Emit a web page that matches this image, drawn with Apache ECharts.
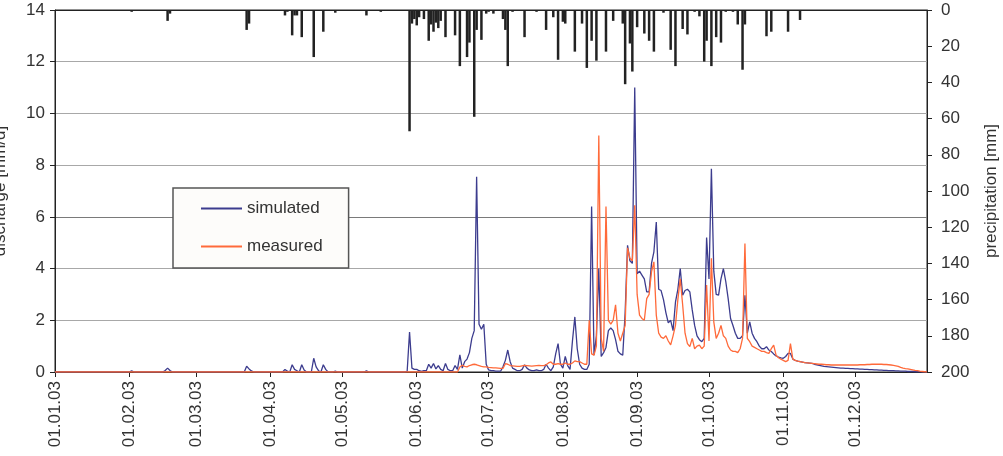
<!DOCTYPE html>
<html>
<head>
<meta charset="utf-8">
<title>discharge / precipitation 2003</title>
<script src="https://cdn.jsdelivr.net/npm/echarts@6.0.0/dist/echarts.min.js"></script>
<style>
  html, body { margin: 0; padding: 0; background: #fff; }
  #main { width: 1003px; height: 456px; }
</style>
</head>
<body>
<div id="main"></div>
<script>
// month axis (2003)
var monthLabels = ['01.01.03', '01.02.03', '01.03.03', '01.04.03', '01.05.03', '01.06.03',
                   '01.07.03', '01.08.03', '01.09.03', '01.10.03', '01.11.03', '01.12.03'];
var monthDays = [31, 28, 31, 30, 31, 30, 31, 31, 30, 31, 30, 31];

// daily precipitation [mm], one line per month
var precipitation = [
  0,0,0,0,0,0,0,0,0,0, 0,0,0,0,0,0,0,0,0,0, 0,0,0,0,0,0,0,0,0,0, 0,
  0,1,0,0,0,0,0,0,0,0, 0,0,0,0,0,0,6,2,0,0, 0,0,0,0,0,0,0,0,
  0,0,0,0,0,0,0,0,0,0, 0,0,0,0,0,0,0,0,0,0, 0,11,7.5,0,0,0,0,0,0,0, 0,
  0,0,0,0,0,0,3,1,0,14, 3,3,0,15,0,0,0,0,26,0, 0,0,12,0,0,0,0,1.5,0,0,
  0,0,0,0,0,0,0,0,0,0, 3,0,0,0,0,0,1,0,0,0, 0,0,0,0,0,0,0,0,67,7.5, 5,
  8.5,4,0,5,0,17,8,12,7,10, 6,0,15,0,0,0,14,0,31,0, 0,26,18,0,59,11,0,16.5,0,2,
  1,0,2,0,0,0,5,11,31,0, 1,0,0,0,0,15,0,0,0,0, 1,0,0,0,11,0,0,4,0,27.5, 0,
  6.5,7.5,0,0,0,23,0,0,7.5,0, 32,0,17,0,28,0,0,0,23,0, 0,6,0,0,0,7.5,41,0,18.5,34, 0,
  9.5,0,0,13,0,17,0,23,0,0, 0,1.5,0,0,22,0,31,0,0,10.5, 0,13.5,0,0,1,0,3.5,0,28.5,17,
  0,31,0,15,0,18,0,1,0,0, 1,0,8,0,33,8,0,0,0,0, 0,0,0,0,14.5,0,12,0,0,0, 0,
  0,0,12,0,0,0,0,5.5,0,0, 0,0,0,0,0,0,0,0,0,0, 0,0,0,0,0,0,0,0,0,0,
  0,0,0,0,0,0,0,0,0,0, 0,0,0,0,0,0,0,0,0,0, 0,0,0,0,0,0,0,0,0,0, 0
];

// simulated discharge [mm/d]
var simulated = [
  0,0,0,0,0,0,0,0,0,0, 0,0,0,0,0,0,0,0,0,0, 0,0,0,0,0,0,0,0,0,0, 0,
  0,0.05,0,0,0,0,0,0,0,0, 0,0,0,0,0,0.06,0.15,0.06,0,0, 0,0,0,0,0,0,0,0,
  0,0,0,0,0,0,0,0,0,0, 0,0,0,0,0,0,0,0,0,0, 0,0.22,0.12,0.04,0,0,0,0,0,0, 0,
  0,0,0,0,0,0,0.1,0.03,0,0.28, 0.1,0.05,0,0.28,0.08,0,0,0,0.53,0.2, 0.05,0,0.28,0.1,0,0,0,0.03,0,0,
  0,0,0,0,0,0,0,0,0,0, 0.05,0,0,0,0,0,0,0,0,0, 0,0,0,0,0,0,0,0.02,1.55,0.15, 0.1,
  0.1,0.05,0.02,0.05,0.05,0.3,0.15,0.33,0.12,0.25, 0.1,0.05,0.33,0.1,0.05,0.05,0.25,0.1,0.66,0.15, 0.4,0.5,0.75,1.3,1.6,7.55,1.85,1.65,1.85,0.3,
  0.08,0.05,0.05,0.03,0.03,0.03,0.2,0.45,0.85,0.4, 0.15,0.1,0.05,0.05,0.1,0.28,0.15,0.08,0.05,0.05, 0.08,0.05,0.05,0.1,0.3,0.15,0.05,0.2,0.7,1.1, 0.3,
  0.15,0.6,0.25,0.1,1.2,2.13,0.9,0.3,0.15,0.1, 0.1,0.3,6.4,0.65,1.4,4.0,0.6,0.75,0.95,1.6, 1.7,1.6,1.25,0.8,0.7,0.65,2.3,4.9,4.3,4.2, 11.0,
  3.8,3.9,3.75,3.6,3.1,3.1,4.2,4.65,5.8,3.2, 3.15,2.8,2.3,1.9,2.0,1.6,2.7,3.2,4.0,2.97, 3.15,3.2,3.1,2.4,1.8,1.4,1.25,1.17,1.3,5.2,
  3.6,7.86,3.9,3.0,2.97,3.6,4.0,3.5,2.84,2.07, 1.8,1.5,1.3,1.3,1.4,2.97,1.5,1.94,1.5,1.3, 1.17,1.0,0.9,0.9,0.98,0.85,0.79,0.7,0.62,0.58, 0.55,
  0.53,0.6,0.72,0.72,0.5,0.45,0.42,0.4,0.38,0.36, 0.35,0.34,0.33,0.3,0.28,0.26,0.24,0.22,0.21,0.2, 0.19,0.18,0.17,0.16,0.15,0.15,0.14,0.14,0.13,0.13,
  0.12,0.12,0.11,0.11,0.1,0.1,0.09,0.09,0.08,0.08, 0.07,0.07,0.06,0.06,0.05,0.05,0.05,0.04,0.04,0.03, 0.03,0.03,0.02,0.02,0.02,0.01,0.01,0.01,0,0, 0
];

// measured discharge [mm/d]
var measured = [
  0,0,0,0,0,0,0,0,0,0, 0,0,0,0,0,0,0,0,0,0, 0,0,0,0,0,0,0,0,0,0, 0,
  0,0,0,0,0,0,0,0,0,0, 0,0,0,0,0,0,0,0,0,0, 0,0,0,0,0,0,0,0,
  0,0,0,0,0,0,0,0,0,0, 0,0,0,0,0,0,0,0,0,0, 0,0,0,0,0,0,0,0,0,0, 0,
  0,0,0,0,0,0,0,0,0,0, 0,0,0,0,0,0,0,0,0,0, 0,0,0,0,0,0,0,0,0,0,
  0,0,0,0,0,0,0,0,0,0, 0,0,0,0,0,0,0,0,0,0, 0,0,0,0,0,0,0,0,0,0, 0,
  0,0,0,0,0,0,0,0,0,0, 0,0,0,0,0,0,0,0,0.19,0.26, 0.22,0.2,0.25,0.28,0.3,0.28,0.25,0.22,0.2,0.2,
  0.18,0.17,0.16,0.16,0.15,0.14,0.14,0.32,0.3,0.25, 0.24,0.23,0.22,0.22,0.24,0.26,0.25,0.24,0.23,0.24, 0.25,0.26,0.25,0.25,0.28,0.35,0.39,0.3,0.3,0.32, 0.3,
  0.3,0.35,0.3,0.3,0.35,0.43,0.4,0.4,0.35,0.3, 0.3,2.0,0.7,0.65,1.0,9.15,1.3,0.8,6.4,2.0, 1.85,2.0,2.6,1.5,1.2,1.5,1.8,4.8,4.4,4.3, 6.45,
  3.0,2.2,2.07,2.0,2.84,3.0,3.87,4.26,2.2,1.5, 1.35,1.3,1.4,1.2,1.05,1.4,1.8,2.8,3.6,2.6, 1.5,1.1,0.98,1.3,0.9,1.0,1.04,0.9,1.0,3.36,
  1.2,4.4,1.94,1.3,1.5,1.8,1.4,1.3,1.0,0.85, 0.8,0.8,0.75,0.9,1.3,4.97,1.3,1.17,1.0,0.95, 0.9,0.85,0.8,0.8,0.75,0.72,0.9,1.04,0.65,0.55, 0.5,
  0.45,0.4,0.45,1.1,0.5,0.45,0.42,0.4,0.38,0.36, 0.35,0.34,0.33,0.32,0.31,0.3,0.3,0.29,0.28,0.28, 0.27,0.27,0.27,0.27,0.27,0.27,0.27,0.27,0.27,0.27,
  0.27,0.27,0.28,0.28,0.28,0.29,0.29,0.3,0.3,0.3, 0.3,0.3,0.29,0.29,0.28,0.27,0.26,0.24,0.22,0.18, 0.15,0.13,0.12,0.1,0.08,0.06,0.05,0.03,0.02,0.01, 0
];

// one category per day
var days = [];
for (var m = 0; m < monthDays.length; m++) {
    for (var d = 1; d <= monthDays[m]; d++) {
        days.push((d < 10 ? '0' + d : '' + d) + monthLabels[m].slice(2));
    }
}
function isMonthStart(index, value) {
    return monthLabels.indexOf(value) >= 0;
}

var font = "'Liberation Sans', Arial, sans-serif";
var myChart = echarts.init(document.getElementById('main'));

var option = {
    animation: false,
    textStyle: { fontFamily: font },
    grid: {
        left: 55, right: 76, top: 10, bottom: 84,
        outerBoundsMode: 'none',
        containLabel: false,
        show: true, borderColor: '#222', borderWidth: 1
    },
    legend: {
        data: ['simulated', 'measured'],
        orient: 'vertical',
        left: 173, top: 188,
        padding: [12, 26, 13, 28],
        itemGap: 21,
        itemWidth: 41,
        itemHeight: 2,
        icon: 'rect',
        backgroundColor: '#fdfcfa',
        borderColor: '#555',
        borderWidth: 1.5,
        textStyle: { fontSize: 17, color: '#333', fontFamily: font }
    },
    xAxis: {
        type: 'category',
        data: days,
        boundaryGap: false,
        axisLine: { lineStyle: { color: '#222', width: 1 } },
        axisTick: { interval: isMonthStart, length: 5, lineStyle: { color: '#222' } },
        axisLabel: {
            interval: isMonthStart,
            rotate: 90,
            margin: 9,
            fontSize: 17,
            color: '#333',
            fontFamily: font
        },
        splitLine: { show: false }
    },
    yAxis: [{
        type: 'value',
        min: 0, max: 14, interval: 2,
        position: 'left',
        name: 'discharge [mm/d]',
        nameLocation: 'middle',
        nameGap: 46,
        nameRotate: 90,
        nameTextStyle: { fontSize: 17, color: '#333', fontFamily: font },
        axisLine: { show: true, lineStyle: { color: '#222' } },
        axisTick: { show: true, length: 5, lineStyle: { color: '#222' } },
        axisLabel: { fontSize: 17, color: '#333', margin: 10, fontFamily: font },
        splitLine: {
            show: true,
            lineStyle: {
                color: ['#999', '#a8a8a8', '#a8a8a8', '#7a7a7a', '#a8a8a8', '#a8a8a8', '#a8a8a8', '#222'],
                width: 1
            }
        }
    }, {
        type: 'value',
        min: 0, max: 200, interval: 20,
        inverse: true,
        position: 'right',
        name: 'precipitation [mm]',
        nameLocation: 'middle',
        nameGap: 56,
        nameRotate: 90,
        nameTextStyle: { fontSize: 17, color: '#333', fontFamily: font },
        axisLine: { show: true, lineStyle: { color: '#222' } },
        axisTick: { show: true, length: 5, lineStyle: { color: '#222' } },
        axisLabel: { fontSize: 17, color: '#333', margin: 14, fontFamily: font },
        splitLine: { show: false }
    }],
    series: [{
        name: 'precipitation',
        type: 'bar',
        yAxisIndex: 1,
        data: precipitation,
        barWidth: 2.5,
        itemStyle: { color: '#222' },
        silent: true
    }, {
        name: 'simulated',
        type: 'line',
        yAxisIndex: 0,
        data: simulated,
        symbol: 'none',
        color: '#3c3c8e',
        lineStyle: { color: '#3c3c8e', width: 1.3 }
    }, {
        name: 'measured',
        type: 'line',
        yAxisIndex: 0,
        data: measured,
        symbol: 'none',
        color: '#ff6a3a',
        lineStyle: { color: '#ff6a3a', width: 1.3 }
    }]
};

myChart.setOption(option);
</script>
</body>
</html>
